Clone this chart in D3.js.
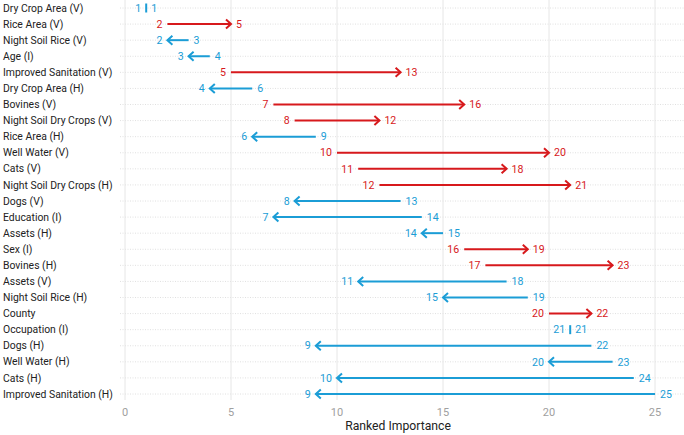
<!DOCTYPE html>
<html>
<head>
<meta charset="utf-8">
<script src="https://cdn.jsdelivr.net/npm/d3@7"></script>
<style>
  body { margin: 0; background: #fff; }
  svg { font-family: Roboto, 'Noto Sans', sans-serif; }
</style>
</head>
<body>
<div id="viz"></div>
<script>
const width = 684;
const height = 435;
const colorUp = '#D7191C';
const colorDown = '#1B9DD6';

// Data
const variables = [
  'Dry Crop Area (V)', 'Rice Area (V)', 'Night Soil Rice (V)', 'Age (I)',
  'Improved Sanitation (V)', 'Dry Crop Area (H)', 'Bovines (V)',
  'Night Soil Dry Crops (V)', 'Rice Area (H)', 'Well Water (V)', 'Cats (V)',
  'Night Soil Dry Crops (H)', 'Dogs (V)', 'Education (I)', 'Assets (H)',
  'Sex (I)', 'Bovines (H)', 'Assets (V)', 'Night Soil Rice (H)', 'County',
  'Occupation (I)', 'Dogs (H)', 'Well Water (H)', 'Cats (H)',
  'Improved Sanitation (H)'
];
const rankFrom = [1, 2, 3, 4, 5, 6, 7, 8, 9, 10, 11, 12, 13, 14, 15, 16, 17, 18, 19, 20, 21, 22, 23, 24, 25];
const rankTo = [1, 5, 2, 3, 13, 4, 16, 12, 6, 20, 18, 21, 8, 7, 14, 19, 23, 11, 15, 22, 21, 9, 20, 10, 9];
const xTicks = [0, 5, 10, 15, 20, 25];

const data = variables.map((v, i) => ({name: v, from: rankFrom[i], to: rankTo[i]}));

const xScale = d3.scaleLinear().domain([0, 25]).range([125, 655]);
const yScale = d3.scalePoint().domain(variables).range([8, 394]);

const svg = d3.select('#viz')
  .append('svg')
    .attr('width', width)
    .attr('height', height);

// Grid
svg.append('g')
  .selectAll('line')
  .data(variables)
  .join('line')
    .attr('x1', 120)
    .attr('x2', width)
    .attr('y1', d => yScale(d))
    .attr('y2', d => yScale(d))
    .attr('stroke', '#e0e0e0')
    .attr('stroke-width', 1)
    .attr('stroke-dasharray', '1,1.5');

svg.append('g')
  .selectAll('line')
  .data(xTicks)
  .join('line')
    .attr('x1', d => xScale(d))
    .attr('x2', d => xScale(d))
    .attr('y1', 0)
    .attr('y2', 400)
    .attr('stroke', '#e6e6e6')
    .attr('stroke-width', 1);

// Axis labels
svg.append('g')
  .selectAll('text')
  .data(xTicks)
  .join('text')
    .attr('x', d => xScale(d))
    .attr('y', 416)
    .attr('text-anchor', 'middle')
    .attr('fill', '#a0a0a0')
    .style('font-size', '11px')
    .text(d => d);

svg.append('text')
  .attr('x', 398)
  .attr('y', 430)
  .attr('text-anchor', 'middle')
  .attr('fill', '#222')
  .style('font-size', '12.2px')
  .text('Ranked Importance');

svg.append('g')
  .selectAll('text')
  .data(variables)
  .join('text')
    .attr('x', 3)
    .attr('y', d => yScale(d))
    .attr('dy', '0.35em')
    .attr('fill', '#222')
    .style('font-size', '10.4px')
    .text(d => d);

// Arrows
const color = d => d.to > d.from ? colorUp : colorDown;
const rows = svg.append('g')
  .selectAll('g')
  .data(data)
  .join('g')
    .attr('transform', d => `translate(0, ${yScale(d.name)})`);

rows.filter(d => d.to !== d.from)
  .append('line')
    .attr('x1', d => xScale(d.from))
    .attr('x2', d => xScale(d.to))
    .attr('stroke', color)
    .attr('stroke-width', 2);

rows.filter(d => d.to !== d.from)
  .append('path')
    .attr('d', d => {
      const dir = d.to > d.from ? 1 : -1;
      const tip = xScale(d.to);
      return `M${tip - dir * 5},-4.5L${tip},0L${tip - dir * 5},4.5`;
    })
    .attr('fill', 'none')
    .attr('stroke', color)
    .attr('stroke-width', 2);

rows.filter(d => d.to === d.from)
  .append('line')
    .attr('x1', d => xScale(d.from))
    .attr('x2', d => xScale(d.from))
    .attr('y1', -4.5)
    .attr('y2', 4.5)
    .attr('stroke', colorDown)
    .attr('stroke-width', 2);

// Rank labels
rows.append('text')
  .attr('x', d => d.to >= d.from ? xScale(d.from) - 5 : xScale(d.from) + 5)
  .attr('text-anchor', d => d.to >= d.from ? 'end' : 'start')
  .attr('dy', '0.35em')
  .attr('fill', d => d.to === d.from ? colorDown : color(d))
  .style('font-size', '10.6px')
  .text(d => d.from);

rows.append('text')
  .attr('x', d => d.to >= d.from ? xScale(d.to) + 5 : xScale(d.to) - 5)
  .attr('text-anchor', d => d.to >= d.from ? 'start' : 'end')
  .attr('dy', '0.35em')
  .attr('fill', d => d.to === d.from ? colorDown : color(d))
  .style('font-size', '10.6px')
  .text(d => d.to);
</script>
</body>
</html>
